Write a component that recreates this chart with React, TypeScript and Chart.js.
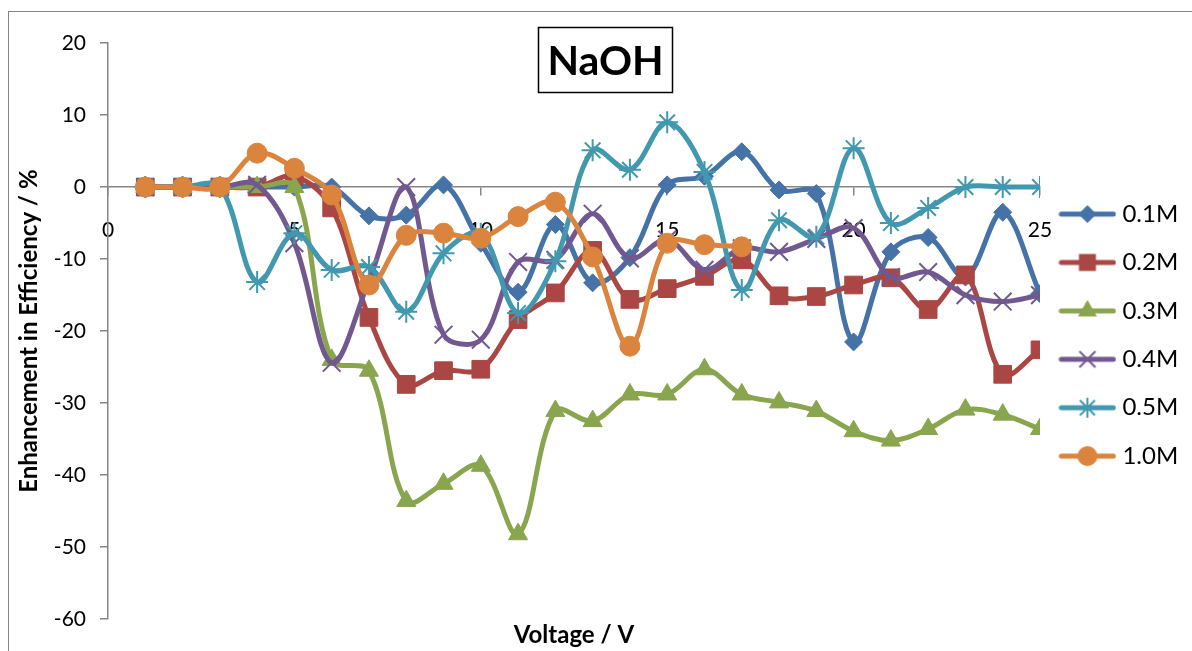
import React, { useEffect, useRef } from "react";
import { Chart, registerables } from "chart.js";

Chart.register(...registerables);

const FONT = "Lato, 'Open Sans', sans-serif";

const chartTitle = "NaOH";
const xAxisTitle = "Voltage / V";
const yAxisTitle = "Enhancement in Efficiency / %";

const voltages = [1, 2, 3, 4, 5, 6, 7, 8, 9, 10, 11, 12, 13, 14, 15, 16, 17, 18, 19, 20, 21, 22, 23, 24, 25];

const conc01 = [0, 0, 0, 0, 0, 0, -4, -3.9, 0.3, -7.8, -14.6, -5.2, -13.3, -9.8, 0.3, 1.5, 4.9, -0.4, -0.9, -21.5, -9, -7, -12.5, -3.5, -14.8];
const conc02 = [0, 0, 0, 0, 1.5, -2.9, -18.1, -27.4, -25.5, -25.3, -18.4, -14.7, -8.8, -15.6, -14.1, -12.4, -10.1, -15.1, -15.2, -13.6, -12.6, -17, -12.2, -26, -22.6];
const conc03 = [0, 0, 0, 0, 0, -24, -25.5, -43.6, -41.2, -38.7, -48.2, -31.1, -32.5, -28.8, -28.8, -25.3, -28.8, -29.9, -31.1, -33.9, -35.2, -33.6, -30.9, -31.6, -33.6];
const conc04 = [0, 0, 0, 0.3, -7.8, -24.4, -13, 0, -20.5, -21.2, -10.4, -10.1, -3.7, -9.9, -7.3, -11.5, -8.5, -9, -7.2, -5.7, -12.5, -11.8, -15, -15.9, -15];
const conc05 = [0, 0, 0, -13.2, -6.4, -11.5, -11.1, -17.3, -9.2, -6.5, -17.5, -10.3, 5.1, 2.4, 9, 2.1, -14.3, -4.6, -6.9, 5.4, -5, -2.9, 0, 0, 0];
const conc10 = [0, 0, 0, 4.7, 2.6, -1.1, -13.6, -6.7, -6.4, -7.1, -4.1, -2.1, -9.7, -22.1, -7.8, -8, -8.3];

const seriesLabels = ["0.1M", "0.2M", "0.3M", "0.4M", "0.5M", "1.0M"];
const seriesColors = ["#4572A7", "#AA4643", "#89A54E", "#71588F", "#4198AF", "#DB843D"];
const seriesMarkers = ["rectRot", "rect", "triangle", "crossRot", "star", "circle"];

const yMin = -60;
const yMax = 20;
const yStep = 10;
const xMin = 0;
const xMax = 25;
const xStep = 5;

const LINE_W = 5;

function makeLegendImage(color: string, style: string): HTMLCanvasElement {
  const c = document.createElement("canvas");
  c.width = 58;
  c.height = 26;
  const g = c.getContext("2d")!;
  g.strokeStyle = color;
  g.fillStyle = color;
  g.lineWidth = LINE_W;
  g.lineCap = "round";
  g.beginPath();
  g.moveTo(3, 13);
  g.lineTo(55, 13);
  g.stroke();
  const cx = 29;
  const cy = 13;
  g.lineWidth = 2;
  g.lineCap = "butt";
  g.beginPath();
  if (style === "rectRot") {
    const r = 9;
    g.moveTo(cx - r, cy);
    g.lineTo(cx, cy - r);
    g.lineTo(cx + r, cy);
    g.lineTo(cx, cy + r);
    g.closePath();
    g.fill();
  } else if (style === "rect") {
    const s = 8.5;
    g.rect(cx - s, cy - s, 2 * s, 2 * s);
    g.fill();
  } else if (style === "triangle") {
    const r = 11;
    g.moveTo(cx, cy - r);
    g.lineTo(cx + 0.866 * r, cy + 0.5 * r);
    g.lineTo(cx - 0.866 * r, cy + 0.5 * r);
    g.closePath();
    g.fill();
  } else if (style === "crossRot") {
    const d = 8;
    g.moveTo(cx - d, cy - d);
    g.lineTo(cx + d, cy + d);
    g.moveTo(cx + d, cy - d);
    g.lineTo(cx - d, cy + d);
    g.stroke();
  } else if (style === "star") {
    const d = 7.5;
    g.moveTo(cx - d, cy - d);
    g.lineTo(cx + d, cy + d);
    g.moveTo(cx + d, cy - d);
    g.lineTo(cx - d, cy + d);
    g.moveTo(cx, cy - 10);
    g.lineTo(cx, cy + 10);
    g.stroke();
  } else {
    g.arc(cx, cy, 10, 0, Math.PI * 2);
    g.fill();
  }
  return c;
}

export default function App() {
  const ref = useRef<HTMLCanvasElement>(null);

  useEffect(() => {
    const canvas = ref.current;
    if (!canvas) return;
    const series = [conc01, conc02, conc03, conc04, conc05, conc10];
    const radii = [9, 12.5, 11, 12.5, 11, 10];
    const legendImgs = seriesColors.map((c, i) => makeLegendImage(c, seriesMarkers[i]));

    const datasets = series.map((vals, i) => ({
      label: seriesLabels[i],
      data: vals.map((v, j) => ({ x: voltages[j], y: v })),
      borderColor: seriesColors[i],
      backgroundColor: seriesColors[i],
      borderWidth: LINE_W,
      borderJoinStyle: "round" as const,
      borderCapStyle: "round" as const,
      pointStyle: seriesMarkers[i] as any,
      pointRadius: radii[i],
      pointHoverRadius: radii[i],
      pointBorderWidth: i === 3 || i === 4 ? 2 : 1,
      pointBackgroundColor: seriesColors[i],
      pointBorderColor: seriesColors[i],
      tension: 0.35,
      fill: false,
      order: 5 - i,
    }));

    const titleBox = {
      id: "titleBox",
      afterDraw(chart: any) {
        const g = chart.ctx as CanvasRenderingContext2D;
        g.save();
        g.fillStyle = "#ffffff";
        g.fillRect(538, 27, 135, 66);
        g.strokeStyle = "#000000";
        g.lineWidth = 1.5;
        g.strokeRect(538.5, 27.5, 134, 65);
        g.fillStyle = "#000000";
        g.font = `bold 41px ${FONT}`;
        g.textAlign = "center";
        g.textBaseline = "middle";
        g.fillText(chartTitle, 605.5, 62);
        g.restore();
      },
    };

    const chart = new Chart(canvas, {
      type: "line",
      data: { datasets: datasets as any },
      plugins: [titleBox],
      options: {
        animation: false,
        responsive: false,
        maintainAspectRatio: false,
        layout: { padding: { top: 43, bottom: 1, left: 0, right: 0 } },
        plugins: {
          tooltip: { enabled: false },
          title: { display: false },
          legend: {
            display: true,
            position: "right",
            fullSize: false,
            maxWidth: 152,
            title: {
              display: true,
              text: " ",
              font: { family: FONT, size: 6, lineHeight: 1 },
              padding: { top: 1, bottom: 1 },
            },
            labels: {
              usePointStyle: true,
              pointStyleWidth: 46,
              padding: 24.4,
              color: "#000000",
              font: { family: FONT, size: 24 },
              generateLabels: (ch: any) =>
                ch.data.datasets.map((ds: any, i: number) => ({
                  text: ds.label,
                  pointStyle: legendImgs[i],
                  fillStyle: seriesColors[i],
                  strokeStyle: seriesColors[i],
                  lineWidth: 0,
                  hidden: false,
                  datasetIndex: i,
                  fontColor: "#000000",
                })),
            },
          },
        },
        scales: {
          x: {
            type: "linear",
            position: { y: 0 } as any,
            min: xMin,
            max: xMax,
            ticks: {
              stepSize: xStep,
              color: "#000000",
              padding: 23,
              font: { family: FONT, size: 21 },
              maxRotation: 0,
            },
            grid: {
              drawOnChartArea: false,
              drawTicks: true,
              tickLength: 8,
              color: "#868686",
              lineWidth: 1.5,
            },
            border: { display: true, color: "#868686", width: 1.5 },
          },
          xTitle: {
            type: "linear",
            axis: "x",
            position: "bottom",
            min: xMin,
            max: xMax,
            ticks: { display: false },
            grid: { display: false, drawTicks: false },
            border: { display: false },
            title: {
              display: true,
              text: xAxisTitle,
              color: "#000000",
              font: { family: FONT, size: 24, weight: "bold" },
              padding: { top: 2, bottom: 0 },
            },
          },
          y: {
            type: "linear",
            position: "left",
            min: yMin,
            max: yMax,
            afterFit: (scale: any) => {
              scale.width = 108;
            },
            ticks: {
              stepSize: yStep,
              color: "#000000",
              padding: 14,
              font: { family: FONT, size: 21 },
            },
            grid: {
              drawOnChartArea: false,
              drawTicks: true,
              tickLength: 8,
              color: "#868686",
              lineWidth: 1.5,
            },
            border: { display: true, color: "#868686", width: 1.5 },
            title: {
              display: true,
              text: yAxisTitle,
              color: "#000000",
              font: { family: FONT, size: 24, weight: "bold" },
              padding: { top: 15, bottom: 0 },
            },
          },
        },
      } as any,
    });

    // keep the plot's right edge at the reference position
    const extra = chart.chartArea.right - 1040;
    if (Math.abs(extra) > 0.5) {
      (chart.options.layout as any).padding.right = Math.max(0, extra);
      chart.update();
    }

    return () => chart.destroy();
  }, []);

  return (
    <div
      style={{
        position: "fixed",
        left: 0,
        top: 0,
        width: 1192,
        height: 651,
        overflow: "hidden",
        background: "#ffffff",
      }}
    >
      <div
        style={{
          position: "absolute",
          left: 8,
          top: 11,
          width: 1200,
          height: 700,
          border: "1px solid #868686",
          boxSizing: "border-box",
        }}
      />
      <canvas
        ref={ref}
        width={1192}
        height={651}
        style={{ position: "absolute", left: 0, top: 0, width: 1192, height: 651 }}
      />
    </div>
  );
}
